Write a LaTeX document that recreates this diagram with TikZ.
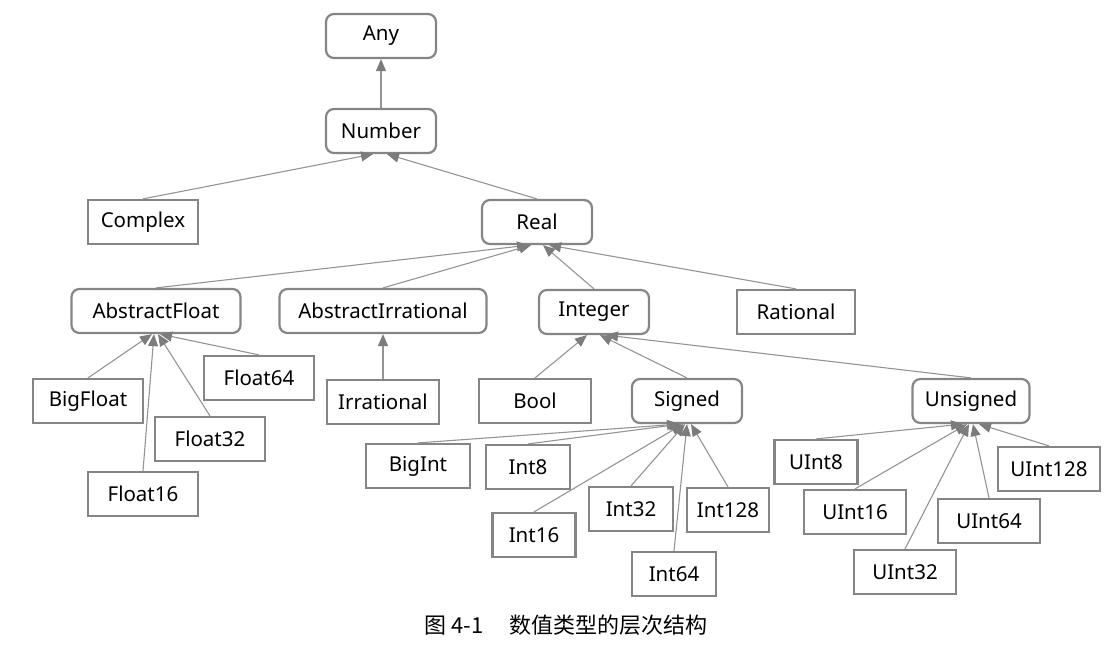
\documentclass[tikz,border=0pt]{standalone}
\usepackage{fontspec}
\setmainfont{Noto Sans}
\newfontfamily\cjk{Noto Sans CJK SC}
\usetikzlibrary{arrows.meta}
\definecolor{boxgray}{HTML}{858585}
\definecolor{linegray}{HTML}{949494}
\definecolor{tipgray}{HTML}{7C7C7C}
\begin{document}
\begin{tikzpicture}[x=0.5pt, y=-0.5pt,
  every node/.style={font=\fontsize{10.25}{12}\selectfont},
  abs/.style={draw=boxgray, line width=1.1pt, rounded corners=4pt, minimum height=22pt, minimum width=#1, inner xsep=2pt},
  abs/.default=55pt,
  con/.style={draw=boxgray, line width=1.1pt, minimum height=22pt, minimum width=#1, inner xsep=2pt},
  con/.default=55pt,
  isa/.style={draw=linegray, line width=0.55pt, -{Triangle[length=6pt,width=5pt,color=tipgray]}}]
  \useasboundingbox (0,0) rectangle (1120,649);
  \node[abs] (any) at (381,36) {Any};
  \node[abs] (number) at (381,131) {Number};
  \node[con] (complex) at (143,222) {Complex};
  \node[abs] (real) at (537,222) {Real};
  \node[abs=84.5pt] (afloat) at (156,311) {AbstractFloat};
  \node[abs=103.5pt] (airr) at (383,311) {AbstractIrrational};
  \node[abs] (integer) at (594,312) {Integer};
  \node[con=59pt] (rational) at (796,312) {Rational};
  \node[con] (bigfloat) at (88,401) {BigFloat};
  \node[con] (float64) at (259,378) {Float64};
  \node[con] (float32) at (210,439) {Float32};
  \node[con] (float16) at (143,494) {Float16};
  \node[con=56pt] (irrational) at (383,402) {Irrational};
  \node[con=56pt] (bool) at (535,401) {Bool};
  \node[abs] (signed) at (687,401) {Signed};
  \node[abs=58.5pt] (unsigned) at (971,401) {Unsigned};
  \node[con=52pt] (bigint) at (418,466) {BigInt};
  \node[con=42pt] (int8) at (528,467) {Int8};
  \node[con=41.5pt] (int16) at (534,535) {Int16};
  \node[con=42pt] (int32) at (631,509) {Int32};
  \node[con=41pt] (int128) at (728,510) {Int128};
  \node[con=42pt] (int64) at (674,574) {Int64};
  \node[con=41.5pt] (uint8) at (816,462) {UInt8};
  \node[con=51pt] (uint128) at (1049,469) {UInt128};
  \node[con=51pt] (uint16) at (855,512) {UInt16};
  \node[con=51pt] (uint64) at (989,521) {UInt64};
  \node[con=51pt] (uint32) at (905,572) {UInt32};
  \foreach \c/\p/\d in {number/any/0, complex/number/-4, real/number/3,
    afloat/real/-4, airr/real/-3, integer/real/3, rational/real/6,
    bigfloat/afloat/-2, float16/afloat/-1, float32/afloat/1, float64/afloat/2,
    irrational/airr/0, bool/integer/-3.5, signed/integer/3, unsigned/integer/6,
    bigint/signed/-4, int8/signed/-3, int16/signed/-2, int32/signed/-1, int64/signed/0, int128/signed/2,
    uint8/unsigned/-4, uint16/unsigned/-2, uint32/unsigned/-1, uint64/unsigned/1, uint128/unsigned/4}
    \draw[isa] (\c.north) -- ([xshift=\d pt]\p.south);
  \node[font=\cjk\fontsize{11}{13}\selectfont] (caption) at (566,625) {图 4-1\hspace{1.2em}数值类型的层次结构};
\end{tikzpicture}
\end{document}
